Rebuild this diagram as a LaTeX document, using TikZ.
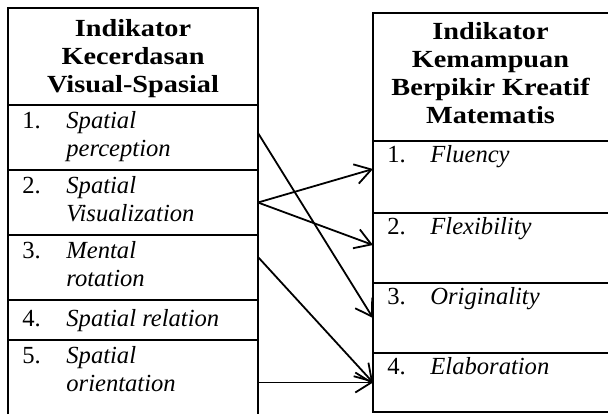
\documentclass[tikz,border=0pt]{standalone}
\usepackage{fontspec}
\setmainfont{Liberation Serif}
\newfontfamily\headfont[FakeStretch=1.15]{Liberation Serif}
\usetikzlibrary{arrows.meta,positioning}
\tikzset{
  cellbox/.style={inner sep=0pt, outer sep=0pt, anchor=north west},
  lcell/.style={cellbox, minimum width=125pt},
  rcell/.style={cellbox, minimum width=117.5pt},
  headtext/.style={font=\headfont\bfseries\fontsize{12.3}{14}\selectfont, align=center, inner sep=0pt, anchor=base},
  numtext/.style={font=\fontsize{12.3}{14}\selectfont, inner sep=0pt, anchor=base west},
  itemtext/.style={font=\itshape\fontsize{12.3}{14}\selectfont, align=left, inner sep=0pt, anchor=base west},
  rule/.style={line width=0.9pt},
  flow/.style={-{Straight Barb[length=8pt,width=10pt]}, line width=0.9pt}
}
\begin{document}
\begin{tikzpicture}[x=0.5pt, y=-0.5pt, node distance=0pt]
\useasboundingbox (0,0) rectangle (608,414);
% left table: kecerdasan visual-spasial
\node[lcell, minimum height=48.5pt] (l0) at (8,8) {};
\node[lcell, minimum height=32.5pt, below=of l0] (l1) {};
\node[lcell, minimum height=32.5pt, below=of l1] (l2) {};
\node[lcell, minimum height=32.5pt, below=of l2] (l3) {};
\node[lcell, minimum height=20pt, below=of l3] (l4) {};
\node[lcell, minimum height=37pt, below=of l4] (l5) {};
\draw[rule] (l5.south west) -- (l0.north west) -- (l0.north east) -- (l5.south east);
\foreach \c in {l0,l1,l2,l3,l4} \draw[rule] (\c.south west) -- (\c.south east);

% base anchor sits on the last line
\node[headtext] (h0) at ([yshift=-42pt]l0.north) {Indikator\\Kecerdasan\\Visual-Spasial};
\node[numtext] (n1) at ([xshift=7pt,yshift=-11.5pt]l1.north west) {1.};
\node[itemtext] (t1) at ([xshift=29pt,yshift=-25.5pt]l1.north west) {Spatial\\perception};
\node[numtext] (n2) at ([xshift=7pt,yshift=-11.5pt]l2.north west) {2.};
\node[itemtext] (t2) at ([xshift=29pt,yshift=-25.5pt]l2.north west) {Spatial\\Visualization};
\node[numtext] (n3) at ([xshift=7pt,yshift=-11.5pt]l3.north west) {3.};
\node[itemtext] (t3) at ([xshift=29pt,yshift=-25.5pt]l3.north west) {Mental\\rotation};
\node[numtext] (n4) at ([xshift=7pt,yshift=-13pt]l4.north west) {4.};
\node[itemtext] (t4) at ([xshift=29pt,yshift=-13pt]l4.north west) {Spatial relation};
\node[numtext] (n5) at ([xshift=7pt,yshift=-11.5pt]l5.north west) {5.};
\node[itemtext] (t5) at ([xshift=29pt,yshift=-25.5pt]l5.north west) {Spatial\\orientation};

% right table: kemampuan berpikir kreatif
\node[rcell, minimum height=64pt] (r0) at (373,13) {};
\node[rcell, minimum height=36pt, below=of r0] (r1) {};
\node[rcell, minimum height=35pt, below=of r1] (r2) {};
\node[rcell, minimum height=35pt, below=of r2] (r3) {};
\node[rcell, minimum height=29.5pt, below=of r3] (r4) {};
\draw[rule] (r0.north east) -- (r0.north west) -- (r4.south west) -- (r4.south east);
\foreach \c in {r0,r1,r2,r3} \draw[rule] (\c.south west) -- (\c.south east);

\node[headtext] (h1) at ([yshift=-55pt]r0.north) {Indikator\\Kemampuan\\Berpikir Kreatif\\Matematis};
\node[numtext] (m1) at ([xshift=7pt,yshift=-10.5pt]r1.north west) {1.};
\node[itemtext] (s1) at ([xshift=28.5pt,yshift=-10.5pt]r1.north west) {Fluency};
\node[numtext] (m2) at ([xshift=7pt,yshift=-10.5pt]r2.north west) {2.};
\node[itemtext] (s2) at ([xshift=28.5pt,yshift=-10.5pt]r2.north west) {Flexibility};
\node[numtext] (m3) at ([xshift=7pt,yshift=-10.5pt]r3.north west) {3.};
\node[itemtext] (s3) at ([xshift=28.5pt,yshift=-10.5pt]r3.north west) {Originality};
\node[numtext] (m4) at ([xshift=7pt,yshift=-10.5pt]r4.north west) {4.};
\node[itemtext] (s4) at ([xshift=28.5pt,yshift=-10.5pt]r4.north west) {Elaboration};

% links
\draw[flow] ([yshift=2.25pt]l1.east) -- (r3.west);
\draw[flow] (l2.east) -- ([yshift=4pt]r1.west);
\draw[flow] (l2.east) -- ([yshift=1.5pt]r2.west);
\draw[flow] ([yshift=5.25pt]l3.east) -- (r4.west);
\draw[flow] ([yshift=-2.75pt]l5.east) -- (r4.west);
\end{tikzpicture}
\end{document}
